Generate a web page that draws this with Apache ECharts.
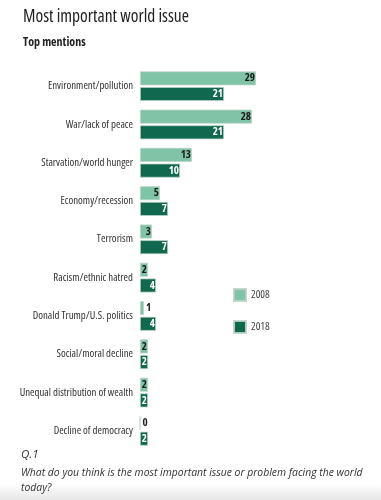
<!DOCTYPE html>
<html>
<head>
<meta charset="utf-8">
<script src="https://cdn.jsdelivr.net/npm/echarts@6/dist/echarts.min.js"></script>
<style>
html,body{margin:0;padding:0;background:#fff;}
#c{width:381px;height:500px;}
</style>
</head>
<body>
<div id="c"></div>
<script>
const categories = [
  "Environment/pollution",
  "War/lack of peace",
  "Starvation/world hunger",
  "Economy/recession",
  "Terrorism",
  "Racism/ethnic hatred",
  "Donald Trump/U.S. politics",
  "Social/moral decline",
  "Unequal distribution of wealth",
  "Decline of democracy"
];
const values2008 = [29, 28, 13, 5, 3, 2, 1, 2, 2, 0];
const values2018 = [21, 21, 10, 7, 7, 4, 4, 2, 2, 2];
const seriesNames = ["2008", "2018"];

const FAM = '"Open Sans", sans-serif';
const C2008 = '#80c4a7';
const C2018 = '#10694e';

function items(vals, textColor) {
  return vals.map(v => ({
    value: v,
    label: v <= 1
      ? { position: 'right', distance: 2, color: '#222' }
      : { position: 'insideRight', distance: 1, color: textColor }
  }));
}

const chart = echarts.init(document.getElementById('c'), null, {renderer: 'canvas'});
chart.setOption({
  animation: false,
  backgroundColor: '#fff',
  title: [
    { text: 'Most important world issue', left: 18, top: 3, padding: [5, 5],
      textStyle: { fontFamily: FAM, fontStyle: 'condensed', fontSize: 17.5, fontWeight: 'normal', color: '#222' } },
    { text: 'Top mentions', left: 18, top: 32, padding: [5, 5],
      textStyle: { fontFamily: FAM, fontStyle: 'condensed', fontSize: 12, fontWeight: 'bold', color: '#222' } }
  ],
  legend: {
    data: seriesNames,
    orient: 'vertical',
    left: 233, top: 288, padding: 0,
    itemWidth: 12, itemHeight: 12, itemGap: 18,
    icon: 'rect',
    textStyle: { fontFamily: FAM, fontStyle: 'condensed', fontSize: 11, color: '#444' }
  },
  grid: { left: 140, top: 67, width: 240, bottom: 50, outerBoundsMode: 'none' },
  xAxis: { type: 'value', min: 0, max: 60, show: false },
  yAxis: {
    type: 'category', data: categories, inverse: true,
    axisLine: { show: false }, axisTick: { show: false },
    axisLabel: { margin: 7, fontFamily: FAM, fontStyle: 'condensed', fontSize: 10.8, color: '#333' }
  },
  series: [
    { name: seriesNames[0], type: 'bar', data: items(values2008, '#1a1a1a'),
      barWidth: 14, barGap: '12%',
      itemStyle: { color: C2008, borderColor: 'rgba(190,210,200,0.9)', borderWidth: 0.8 },
      label: { show: true, fontFamily: FAM, fontStyle: 'condensed', fontSize: 11, fontWeight: 'bold' } },
    { name: seriesNames[1], type: 'bar', data: items(values2018, '#ffffff'),
      barWidth: 14,
      itemStyle: { color: C2018, borderColor: 'rgba(190,210,200,0.9)', borderWidth: 0.8 },
      label: { show: true, fontFamily: FAM, fontStyle: 'condensed', fontSize: 11, fontWeight: 'bold' } }
  ],
  graphic: [
    { type: 'rect', left: 0, top: 484, shape: { width: 381, height: 16 }, z: -1,
      style: { fill: new echarts.graphic.LinearGradient(0, 0, 0, 1, [
        { offset: 0, color: '#ffffff' }, { offset: 1, color: '#e6e6e6' }]) } },
    { type: 'text', left: 21, top: 449,
      style: { text: 'Q.1', font: 'italic 11.5px "Open Sans", sans-serif', fill: '#333' } },
    { type: 'text', left: 21, top: 465,
      style: { text: 'What do you think is the most important issue or problem facing the world\ntoday?',
        font: 'italic 10.4px "Open Sans", sans-serif', fill: '#333', lineHeight: 15.5 } }
  ]
});
</script>
</body>
</html>
